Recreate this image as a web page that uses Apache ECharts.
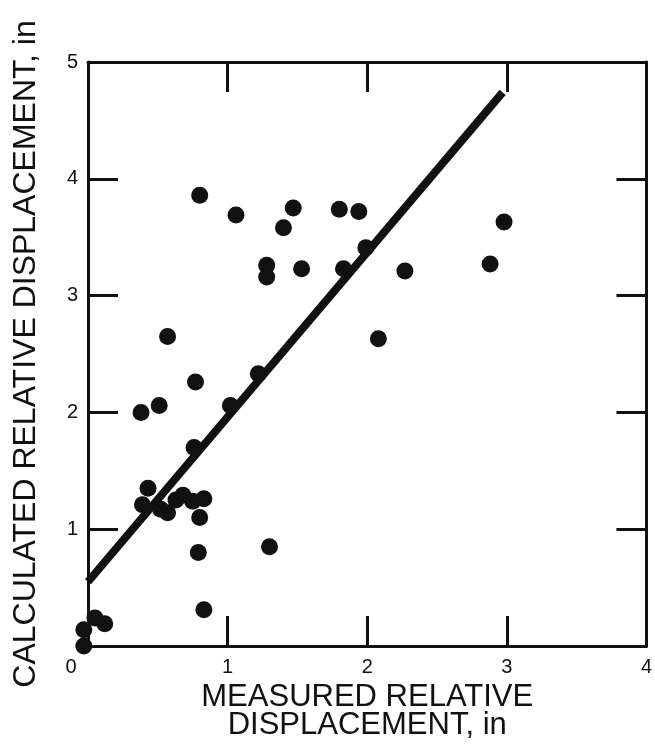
<!DOCTYPE html>
<html>
<head>
<meta charset="utf-8">
<script src="https://cdn.jsdelivr.net/npm/echarts@6/dist/echarts.min.js"></script>
<style>
html,body{margin:0;padding:0;background:#fff;}
#chart{width:655px;height:755px;}
</style>
</head>
<body>
<div id="chart"></div>
<script>
// Data
const measured   = [0.80,1.06,1.47,1.40,1.28,1.28,1.53,0.57,1.80,1.94,1.99,1.83,2.27,2.98,2.88,2.08,1.22,0.77,0.51,0.38,1.02,0.76,0.43,0.39,0.52,0.57,0.63,0.68,0.75,0.83,0.80,0.79,1.30,0.83,0.05,0.12,-0.03,-0.03];
const calculated = [3.86,3.69,3.75,3.58,3.26,3.16,3.23,2.65,3.74,3.72,3.41,3.23,3.21,3.63,3.27,2.63,2.33,2.26,2.06,2.00,2.06,1.70,1.35,1.21,1.17,1.14,1.25,1.29,1.24,1.26,1.10,0.80,0.85,0.31,0.24,0.19,0.14,0.00];
const fitX = [0, 2.97];
const fitY = [0.55, 4.74];
const xTicks = [0,1,2,3,4];
const yTicks = [0,1,2,3,4,5];

const ink = '#111';
const font = 'Liberation Sans, Arial, Helvetica, sans-serif';

const chart = echarts.init(document.getElementById('chart'), null, {renderer:'canvas'});

const axisCommon = {
  type:'value',
  interval:1,
  axisLine:{show:true, onZero:false, lineStyle:{color:ink, width:3}},
  axisTick:{show:true, inside:true, length:30, lineStyle:{color:ink, width:3}},
  splitLine:{show:false}
};

chart.setOption({
  animation:false,
  backgroundColor:'#fff',
  grid:{left:88, right:5, top:62, bottom:109, containLabel:false},
  xAxis:[
    Object.assign({}, axisCommon, {
      min:xTicks[0], max:xTicks[xTicks.length-1], position:'bottom',
      name:'MEASURED RELATIVE\nDISPLACEMENT, in',
      nameLocation:'middle', nameGap:37,
      nameTextStyle:{fontFamily:font, fontSize:31, color:ink, lineHeight:28, verticalAlign:'top'},
      axisLabel:{
        margin:11, fontFamily:font, fontSize:20, color:ink,
        formatter:function(v){ return v === 0 ? '{z|0}' : String(v); },
        rich:{z:{fontFamily:font, fontSize:20, color:ink, padding:[0,34,0,0]}}
      }
    }),
    Object.assign({}, axisCommon, {
      min:xTicks[0], max:xTicks[xTicks.length-1], position:'top',
      axisLabel:{show:false}
    })
  ],
  yAxis:[
    Object.assign({}, axisCommon, {
      min:yTicks[0], max:yTicks[yTicks.length-1], position:'left',
      name:'CALCULATED RELATIVE DISPLACEMENT, in',
      nameLocation:'middle', nameGap:46, nameRotate:90,
      nameTextStyle:{fontFamily:font, fontSize:32, color:ink},
      axisLabel:{
        margin:10, fontFamily:font, fontSize:20, color:ink,
        formatter:function(v){ return v === 0 ? '' : String(v); }
      }
    }),
    Object.assign({}, axisCommon, {
      min:yTicks[0], max:yTicks[yTicks.length-1], position:'right',
      axisLabel:{show:false}
    })
  ],
  series:[
    {
      type:'line',
      xAxisIndex:0, yAxisIndex:0,
      data:fitX.map((x,i)=>[x, fitY[i]]),
      symbol:'none',
      lineStyle:{color:ink, width:8},
      silent:true,
      z:2
    },
    {
      type:'scatter',
      xAxisIndex:0, yAxisIndex:0,
      data:measured.map((x,i)=>[x, calculated[i]]),
      symbol:'circle',
      symbolSize:17,
      clip:false,
      itemStyle:{color:ink, opacity:1},
      z:3
    }
  ]
});
</script>
</body>
</html>
